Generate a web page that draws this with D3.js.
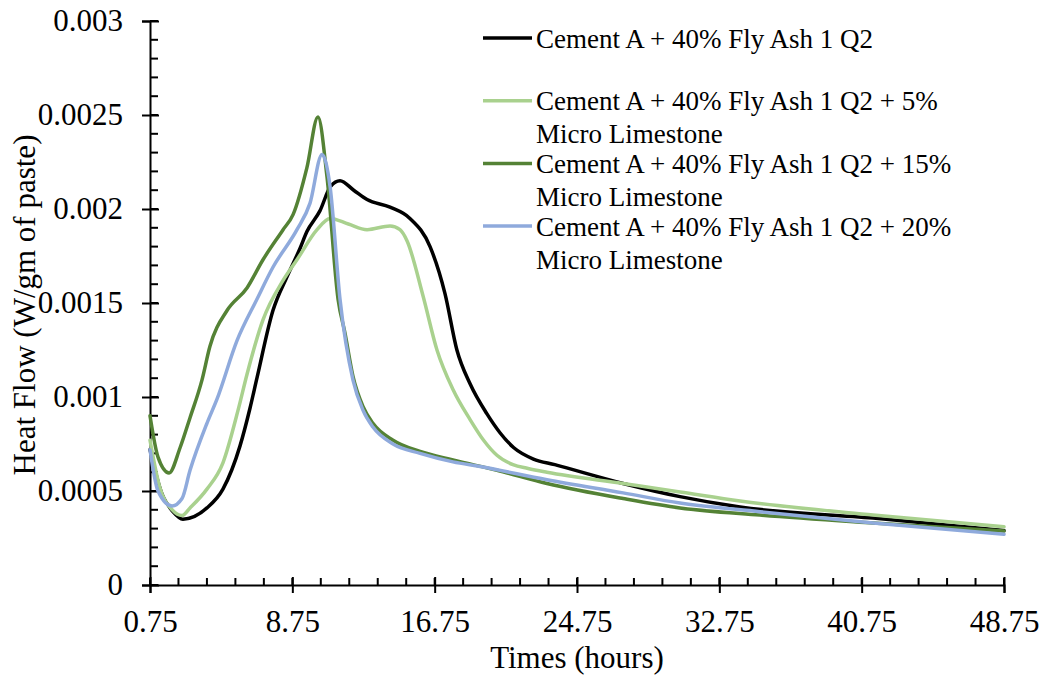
<!DOCTYPE html>
<html>
<head>
<meta charset="utf-8">
<script src="https://cdn.jsdelivr.net/npm/d3@7"></script>
<style>
  html, body { margin: 0; padding: 0; background: #fff; }
  svg { display: block; font-family: "Liberation Serif", "Times New Roman", serif; }
</style>
</head>
<body>
<svg id="chart" width="1044" height="675"></svg>
<script>
// tick values
const xTicks = [0.75, 8.75, 16.75, 24.75, 32.75, 40.75, 48.75];
const yTicks = [0, 0.0005, 0.001, 0.0015, 0.002, 0.0025, 0.003];

const seriesNames = [
    ["Cement A + 40% Fly Ash 1 Q2"],
    ["Cement A + 40% Fly Ash 1 Q2 + 5%", "Micro Limestone"],
    ["Cement A + 40% Fly Ash 1 Q2 + 15%", "Micro Limestone"],
    ["Cement A + 40% Fly Ash 1 Q2 + 20%", "Micro Limestone"]
];
const seriesColors = ["#000000", "#a9d18e", "#548235", "#8faadc"];

// [hours, W/gm of paste]
const flyAshOnly = [
    [0.75, 0.00072], [1.4, 0.00049], [2.04, 0.00039], [2.6, 0.00035], [3.95, 0.00041],
    [4.85, 0.00051], [5.81, 0.00074], [6.37, 0.00094], [6.76, 0.0011], [7.66, 0.00146],
    [8.45, 0.00164], [9.18, 0.00179], [9.57, 0.00188], [10.3, 0.00199], [10.9, 0.00212],
    [11.43, 0.00215], [12.2, 0.0021], [12.95, 0.00205], [14.24, 0.00201], [15.36, 0.00195],
    [16.49, 0.0018], [17.33, 0.00155], [18.0, 0.00125], [18.74, 0.00107], [19.69, 0.00091],
    [20.42, 0.00081], [21.2, 0.00073], [22.3, 0.00067], [23.5, 0.00064], [27.34, 0.00054],
    [30.54, 0.00047], [33.91, 0.000415], [41.39, 0.000356], [48.75, 0.00029]
];
const limestone5 = [
    [0.75, 0.00077], [1.3, 0.00052], [2.0, 0.0004], [2.55, 0.00037], [3.0, 0.00041],
    [3.95, 0.00051], [4.85, 0.00065], [5.7, 0.00093], [6.2, 0.00112], [7.1, 0.00141],
    [8.23, 0.00162], [9.01, 0.00173], [10.14, 0.00189], [10.87, 0.00195], [11.9, 0.00192],
    [12.95, 0.00189], [14.24, 0.00191], [14.8, 0.00189], [15.2, 0.00183], [16.09, 0.00154],
    [16.88, 0.00125], [17.78, 0.00104], [18.74, 0.00088], [19.5, 0.00077], [20.25, 0.00069],
    [21.15, 0.00064], [22.0, 0.00062], [23.06, 0.0006], [27.34, 0.00054], [30.54, 0.000495],
    [33.91, 0.000447], [41.39, 0.000372], [48.75, 0.00031]
];
const limestone15 = [
    [0.75, 0.0009], [1.2, 0.00068], [1.82, 0.000596], [2.44, 0.00073], [3.0, 0.00089],
    [3.67, 0.00109], [4.12, 0.00127], [5.08, 0.00146], [6.2, 0.00158], [7.1, 0.00173],
    [8.23, 0.00189], [8.79, 0.00197], [9.57, 0.00222], [10.19, 0.00249], [10.7, 0.00217],
    [11.32, 0.00152], [11.71, 0.00134], [12.16, 0.00111], [12.72, 0.00095], [13.28, 0.00086],
    [14.41, 0.00077], [15.93, 0.00071], [17.78, 0.000665], [20.25, 0.00061], [23.06, 0.00054],
    [27.34, 0.00046], [30.54, 0.00041], [35.03, 0.000372], [41.39, 0.00033], [48.75, 0.000287]
];
const limestone20 = [
    [0.75, 0.00072], [1.2, 0.0005], [1.99, 0.00042], [2.55, 0.00046], [3.0, 0.00061],
    [3.95, 0.00086], [4.52, 0.00099], [5.64, 0.0013], [6.76, 0.00152], [7.66, 0.00169],
    [9.01, 0.00189], [9.74, 0.00203], [10.42, 0.00229], [10.87, 0.00212], [11.43, 0.00152],
    [12.16, 0.00109], [12.72, 0.00093], [13.28, 0.00084], [14.41, 0.00075], [15.93, 0.0007],
    [17.78, 0.000655], [19.3, 0.00063], [23.06, 0.00056], [27.34, 0.00049], [30.54, 0.000436],
    [35.03, 0.00039], [41.39, 0.00033], [48.75, 0.00027]
];
const allSeries = [flyAshOnly, limestone5, limestone15, limestone20];

const svg = d3.select("#chart");
const margin = { top: 21, left: 150 };
const innerWidth = 1004 - margin.left;
const innerHeight = 585 - margin.top;

const g = svg.append("g").attr("transform", `translate(${margin.left},${margin.top})`);

const x = d3.scaleLinear().domain([0.75, 48.75]).range([0, innerWidth]);
const y = d3.scaleLinear().domain([0, 0.003]).range([innerHeight, 0]);

// minor ticks (inside the plot)
const xMinor = d3.range(0, 31).map(i => 0.75 + i * 1.6);
const yMinor = d3.range(0, 31).map(i => i * 0.0001);

g.append("g").selectAll("line").data(xMinor).join("line")
    .attr("x1", d => x(d)).attr("x2", d => x(d))
    .attr("y1", innerHeight).attr("y2", innerHeight - 7)
    .attr("stroke", "#000").attr("stroke-width", 2);

g.append("g").selectAll("line").data(yMinor).join("line")
    .attr("x1", 0).attr("x2", 8)
    .attr("y1", d => y(d)).attr("y2", d => y(d))
    .attr("stroke", "#000").attr("stroke-width", 2);

// axes
const xAxis = d3.axisBottom(x).tickValues(xTicks).tickSize(8).tickPadding(17)
    .tickFormat(d => d.toFixed(2));
const yAxis = d3.axisLeft(y).tickValues(yTicks).tickSize(8).tickPadding(19)
    .tickFormat(d => d === 0 ? "0" : String(d));

const xAxisGroup = g.append("g").attr("transform", `translate(0,${innerHeight})`).call(xAxis);
const yAxisGroup = g.append("g").call(yAxis);

[xAxisGroup, yAxisGroup].forEach(ax => {
    ax.attr("font-size", null).attr("font-family", null);
    ax.select(".domain").attr("stroke", "#000").attr("stroke-width", 2);
    ax.selectAll(".tick line").attr("stroke", "#000").attr("stroke-width", 2);
    ax.selectAll(".tick text")
        .attr("fill", "#000")
        .style("font-size", "31px");
});
// major ticks cross the axis
xAxisGroup.selectAll(".tick line").attr("y1", -8).attr("y2", 8);
yAxisGroup.selectAll(".tick line").attr("x1", -8).attr("x2", 9);

// lines
const line = d3.line()
    .x(d => x(d[0]))
    .y(d => y(d[1]))
    .curve(d3.curveMonotoneX);

g.append("g").selectAll("path").data(allSeries).join("path")
    .attr("d", line)
    .attr("fill", "none")
    .attr("stroke", (d, i) => seriesColors[i])
    .attr("stroke-width", 3.5)
    .attr("stroke-linejoin", "round")
    .attr("stroke-linecap", "round");

// axis titles
svg.append("text")
    .attr("x", 577).attr("y", 668)
    .attr("text-anchor", "middle")
    .style("font-size", "31px")
    .text("Times (hours)");

svg.append("text")
    .attr("transform", "translate(35,305) rotate(-90)")
    .attr("text-anchor", "middle")
    .style("font-size", "31px")
    .text("Heat Flow (W/gm of paste)");

// legend
const legend = svg.append("g").selectAll("g").data(seriesNames).join("g")
    .attr("transform", (d, i) => `translate(483,${38 + i * 62.7})`);

legend.append("line")
    .attr("x1", 0).attr("x2", 49)
    .attr("y1", 0).attr("y2", 0)
    .attr("stroke", (d, i) => seriesColors[i])
    .attr("stroke-width", 3.5);

legend.append("text")
    .style("font-size", "27px")
    .selectAll("tspan").data(d => d).join("tspan")
    .attr("x", 53)
    .attr("y", (d, j) => 9.5 + j * 33)
    .text(d => d);
</script>
</body>
</html>
